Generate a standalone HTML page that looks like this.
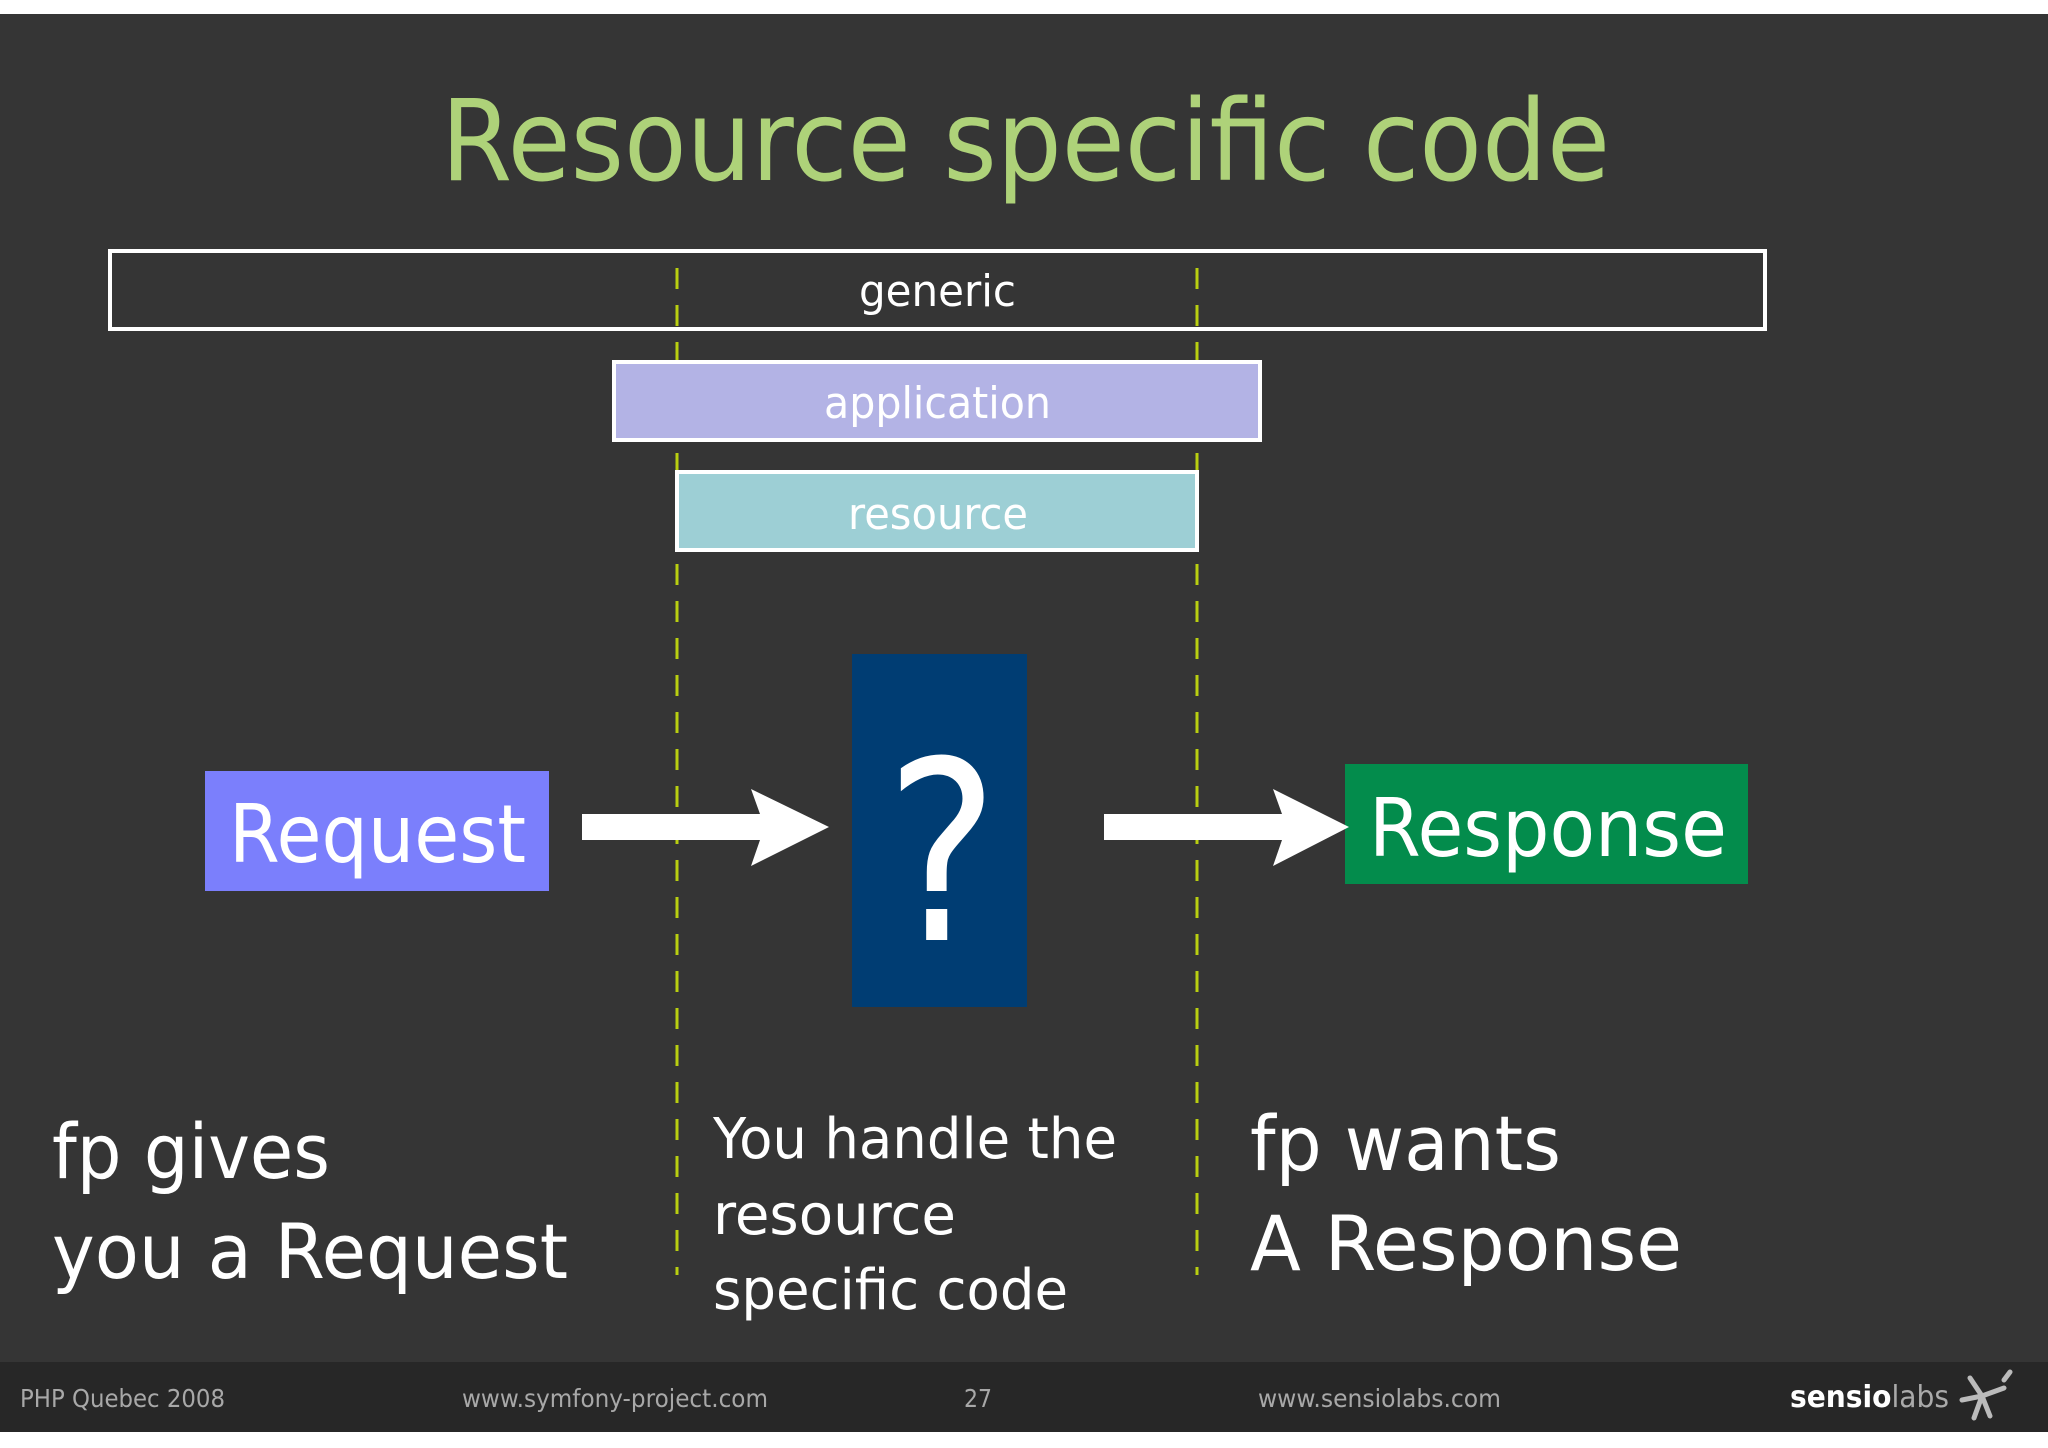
<!DOCTYPE html>
<html><head><meta charset="utf-8"><style>
html,body{margin:0;padding:0;background:#fff}
svg{display:block}
text{font-family:"DejaVu Sans","Liberation Sans",sans-serif}
</style></head><body>
<svg width="2048" height="1448" viewBox="0 0 2048 1448" xmlns="http://www.w3.org/2000/svg">
<rect x="0" y="0" width="2048" height="1448" fill="#ffffff"/>
<rect x="0" y="14" width="2048" height="1348" fill="#353535"/>
<rect x="0" y="1362" width="2048" height="70" fill="#272727"/>
<text x="441" y="180" font-size="112" fill="#aed279" textLength="1169" lengthAdjust="spacingAndGlyphs">Resource specific code</text>
<g stroke="#b9cf10" stroke-width="3" stroke-dasharray="21 16">
<line x1="677" y1="268" x2="677" y2="1275"/>
<line x1="1197" y1="268" x2="1197" y2="1275"/>
</g>
<rect x="110" y="251" width="1655" height="78" fill="none" stroke="#ffffff" stroke-width="4"/>
<text x="859" y="306" font-size="44" fill="#ffffff" textLength="157" lengthAdjust="spacingAndGlyphs">generic</text>
<rect x="614" y="362" width="646" height="78" fill="#b3b3e5" stroke="#ffffff" stroke-width="4"/>
<text x="824" y="418" font-size="44" fill="#ffffff" textLength="227" lengthAdjust="spacingAndGlyphs">application</text>
<rect x="677" y="472" width="520" height="78" fill="#9dcfd5" stroke="#ffffff" stroke-width="4"/>
<text x="848" y="529" font-size="44" fill="#ffffff" textLength="180" lengthAdjust="spacingAndGlyphs">resource</text>
<rect x="205" y="771" width="344" height="120" fill="#7b7ffc"/>
<text x="229" y="862" font-size="80" fill="#ffffff" textLength="297" lengthAdjust="spacingAndGlyphs">Request</text>
<rect x="852" y="654" width="175" height="353" fill="#003d73"/>
<text x="942" y="940" text-anchor="middle" font-size="250" fill="#ffffff" transform="translate(942 0) scale(0.85 1) translate(-942 0)">?</text>
<rect x="1345" y="764" width="403" height="120" fill="#038c4c"/>
<text x="1369" y="856" font-size="80" fill="#ffffff" textLength="358" lengthAdjust="spacingAndGlyphs">Response</text>
<polygon points="582,814 760,814 751,789 829,827 751,866 760,840 582,840" fill="#ffffff"/>
<polygon points="1104,814 1282,814 1273,789 1349,827 1273,866 1282,840 1104,840" fill="#ffffff"/>
<g fill="#ffffff" font-size="76">
<text x="52" y="1178" textLength="278" lengthAdjust="spacingAndGlyphs">fp gives</text>
<text x="52" y="1278" textLength="516" lengthAdjust="spacingAndGlyphs">you a Request</text>
<text x="1250" y="1170" textLength="311" lengthAdjust="spacingAndGlyphs">fp wants</text>
<text x="1250" y="1270" textLength="432" lengthAdjust="spacingAndGlyphs">A Response</text>
</g>
<g fill="#ffffff" font-size="56">
<text x="713" y="1158" textLength="404" lengthAdjust="spacingAndGlyphs">You handle the</text>
<text x="713" y="1234" textLength="243" lengthAdjust="spacingAndGlyphs">resource</text>
<text x="713" y="1309" textLength="355" lengthAdjust="spacingAndGlyphs">specific code</text>
</g>
<g fill="#a8a8a8" font-size="25">
<text x="20" y="1407" textLength="205" lengthAdjust="spacingAndGlyphs">PHP Quebec 2008</text>
<text x="462" y="1407" textLength="306" lengthAdjust="spacingAndGlyphs">www.symfony-project.com</text>
<text x="964" y="1407" textLength="28" lengthAdjust="spacingAndGlyphs">27</text>
<text x="1258" y="1407" textLength="243" lengthAdjust="spacingAndGlyphs">www.sensiolabs.com</text>
</g>
<text x="1790" y="1407" font-size="30" fill="#ffffff" font-weight="bold" textLength="159" lengthAdjust="spacingAndGlyphs">sensio<tspan fill="#aaaaaa" font-weight="normal">labs</tspan></text>
<g stroke="#bbbbbb" stroke-width="5" stroke-linecap="round">
<line x1="1982" y1="1396" x2="1970" y2="1378"/>
<line x1="1982" y1="1396" x2="1962" y2="1400"/>
<line x1="1982" y1="1396" x2="1974" y2="1418"/>
<line x1="1982" y1="1396" x2="1990" y2="1416"/>
<line x1="1982" y1="1396" x2="2004" y2="1388"/>
<line x1="2004" y1="1380" x2="2010" y2="1372"/>
</g>
</svg>
</body></html>
